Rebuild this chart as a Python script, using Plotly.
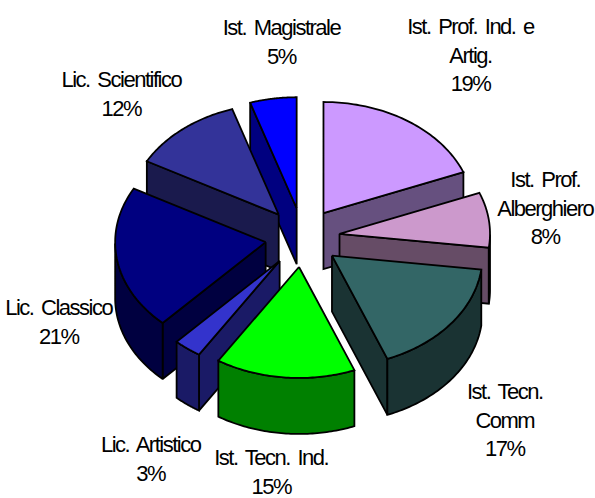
import numpy as np
import plotly.graph_objects as go

categories = ["Ist. Prof. Ind. e Artig.", "Ist. Prof. Alberghiero", "Ist. Tecn. Comm", "Ist. Tecn. Ind.",
              "Lic. Artistico", "Lic. Classico", "Lic. Scientifico", "Ist. Magistrale"]
values = [19, 8, 17, 15, 3, 21, 12, 5]
top_colors = ["#CC99FF", "#CC99CC", "#336666", "#00FF00", "#3333CC", "#000080", "#333399", "#0000FF"]
side_colors = ["#66507F", "#664C66", "#1A3333", "#008000", "#1A1A66", "#000040", "#1A1A4D", "#000080"]
label_lines = [["Ist. Prof. Ind. e", "Artig.", "19%"], ["Ist. Prof.", "Alberghiero", "8%"],
               ["Ist. Tecn.", "Comm", "17%"], ["Ist. Tecn. Ind.", "15%"], ["Lic. Artistico", "3%"],
               ["Lic. Classico", "21%"], ["Lic. Scientifico", "12%"], ["Ist. Magistrale", "5%"]]
label_x = [470, 545, 505, 271, 150, 58, 121, 281]
label_y = [55, 208, 420, 472, 459, 321.5, 94, 42]

CX, CY, RX, RY, DEPTH = 302.5, 237.5, 150.5, 111, 56
EX, EY = 37.3, 29.6
LW = 1.8

fig = go.Figure()
total = sum(values)
edges = np.cumsum([0] + values) / total * 2 * np.pi


def poly(xs, ys, fill):
    fig.add_trace(go.Scatter(x=np.r_[xs, xs[0]], y=np.r_[ys, ys[0]], mode="lines", fill="toself",
                             fillcolor=fill, line=dict(color="black", width=LW, simplify=False),
                             hoverinfo="skip"))


slices = []
for i, v in enumerate(values):
    a, b = edges[i], edges[i + 1]
    m = (a + b) / 2
    ax, ay = CX + EX * np.sin(m), CY - EY * np.cos(m)
    t = np.linspace(a, b, 60)
    slices.append((i, a, b, ax, ay, t))

# painter order: back slices first, front ones last
slices.sort(key=lambda s: s[4])
for i, a, b, ax, ay, t in slices:
    ox, oy = ax + RX * np.sin(t), ay - RY * np.cos(t)
    # radial walls face the viewer only on the side that looks downwards
    if a > np.pi:
        poly(np.array([ax, ox[0], ox[0], ax]), np.array([ay, oy[0], oy[0] + DEPTH, ay + DEPTH]), side_colors[i])
    if b < np.pi:
        poly(np.array([ax, ox[-1], ox[-1], ax]), np.array([ay, oy[-1], oy[-1] + DEPTH, ay + DEPTH]), side_colors[i])
    # outer wall: only the part of the rim on the lower half
    tw = t[(t >= np.pi / 2) & (t <= 3 * np.pi / 2)]
    if len(tw) > 1:
        wx, wy = ax + RX * np.sin(tw), ay - RY * np.cos(tw)
        poly(np.r_[wx, wx[::-1]], np.r_[wy, wy[::-1] + DEPTH], side_colors[i])
    poly(np.r_[ax, ox], np.r_[ay, oy], top_colors[i])

for lines, x, y in zip(label_lines, label_x, label_y):
    fig.add_annotation(x=x, y=y, text="<br>".join(lines), showarrow=False, xanchor="center", yanchor="middle",
                       font=dict(family="Liberation Sans", size=22, color="black"), align="center")

fig.update_xaxes(range=[0, 595], visible=False, fixedrange=True)
fig.update_yaxes(range=[498, 0], visible=False, fixedrange=True)
fig.update_layout(width=595, height=498, margin=dict(l=0, r=0, t=0, b=0), showlegend=False,
                  paper_bgcolor="white", plot_bgcolor="white")
post = """
document.body.style.margin = '0';
document.querySelectorAll('.annotation-text').forEach(function (t) {
  t.style.letterSpacing = '-1.5px';
  t.style.wordSpacing = '3px';
});
"""
fig.write_html("out.html", post_script=post, config={"displayModeBar": False})
